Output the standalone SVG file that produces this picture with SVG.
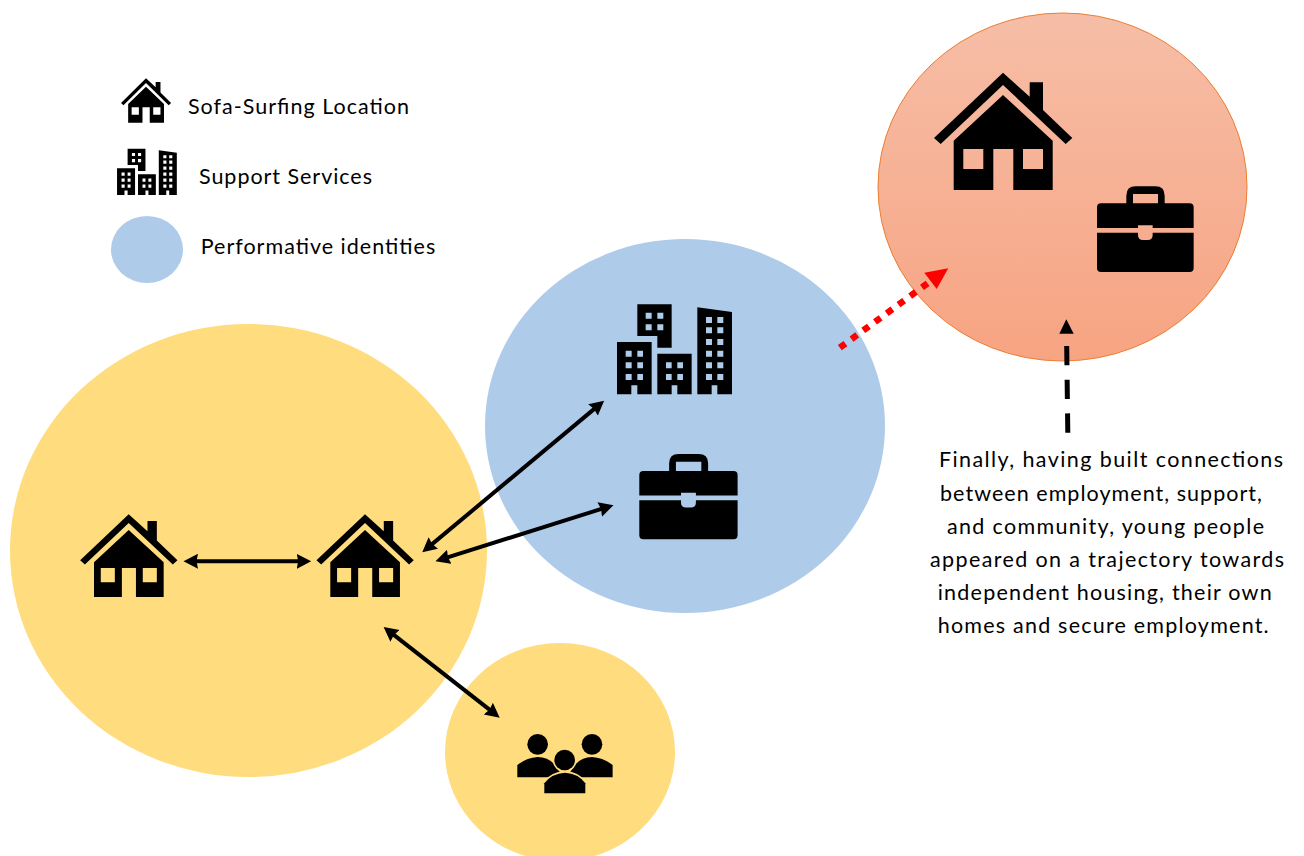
<svg xmlns="http://www.w3.org/2000/svg" xmlns:xlink="http://www.w3.org/1999/xlink" width="1304" height="856" viewBox="0 0 1304 856">
<style>
text{font-family:Lato,"Liberation Sans",sans-serif;font-size:21.5px;fill:#000}
.y{fill:#FFDC7E}.b{fill:#AECCEA}
.dbl{stroke:#000;stroke-width:4;fill:none;marker-start:url(#ah);marker-end:url(#ah)}
</style>
<defs>
<linearGradient id="rg" x1="0" y1="0" x2="0" y2="1"><stop offset="0" stop-color="#F6BEA7"/><stop offset="1" stop-color="#F7A482"/></linearGradient>
<marker id="ah" markerUnits="userSpaceOnUse" markerWidth="17" markerHeight="17" refX="6" refY="8" orient="auto-start-reverse"><path d="M0,0.5L14.5,8L0,15.5L1.5,8z" fill="#000"/></marker>
<path id="house" fill-rule="evenodd" d="M0,0L26.7,24V9.6H40V37.3L69.3,65.3L62.7,71.3L0,12.3L-62.3,71.3L-69,65.3ZM0,22.3L49.7,68V117.3H10.3V76.3H-9.7V117.3H-49.3V68ZM-39.7,76.3V96.3H-19.7V76.3ZM20,76.3V96.3H40V76.3Z"/>
<path id="city" fill-rule="evenodd" d="M111,186H215V343H172V316H154V343H111ZM137,212V230H155V212ZM172,212V230H189V212ZM137,247V265H155V247ZM172,247V265H189V247ZM137,282V300H155V282ZM172,282V300H189V282ZM232,221H335V343H292V316H275V343H232ZM258,247V265H275V247ZM292,247V265H309V247ZM258,282V300H275V282ZM292,282V300H309V282ZM352,82L456,96V343H412V316H395V343H352ZM378,111V129H396V111ZM412,111V129H430V111ZM378,142V160H396V142ZM412,142V160H430V142ZM378,177V195H396V177ZM412,177V195H430V177ZM378,212V230H396V212ZM412,212V230H430V212ZM378,247V265H396V247ZM412,247V265H430V247ZM378,282V300H396V282ZM412,282V300H430V282ZM172,73H275V203H232V168H172ZM197,98V116H215V98ZM232,98V116H250V98ZM197,133V151H215V133ZM232,133V151H250V133Z"/>
<path id="case" fill-rule="evenodd" d="M88,51V28Q88,0 116,0H175Q203,0 203,28V51H278Q290,51 290,63V125H167V117H123V125H0V63Q0,51 12,51ZM108,51H183V23H108ZM0,139H123V146Q123,161 138,161H152Q167,161 167,146V139H290V245Q290,257 278,257H12Q0,257 0,245Z"/>
</defs>
<g id="circle-main"><ellipse class="y" cx="248.5" cy="550.5" rx="238.5" ry="226.5"/></g>
<g id="circle-identities"><ellipse class="b" cx="685" cy="426" rx="200" ry="187"/></g>
<g id="circle-community"><ellipse class="y" cx="560" cy="752" rx="115" ry="109"/></g>
<g id="circle-future"><ellipse cx="1062.5" cy="187" rx="184.5" ry="174" fill="url(#rg)" stroke="#ED7D31" stroke-width="1"/></g>
<g id="legend-house"><use xlink:href="#house" href="#house" transform="translate(146,78.3) scale(.362,.378)"/><text x="188" y="114" textLength="221" lengthAdjust="spacing">Sofa-Surfing Location</text></g>
<g id="legend-services"><use xlink:href="#city" href="#city" transform="translate(97.8,136.2) scale(.1733,.1717)"/><text x="199" y="184" textLength="173" lengthAdjust="spacing">Support Services</text></g>
<g id="legend-identities"><ellipse class="b" cx="147" cy="249.5" rx="36" ry="33.5"/><text x="200.7" y="254" textLength="234.5" lengthAdjust="spacing">Performative identities</text></g>
<g id="house-a"><use xlink:href="#house" href="#house" transform="translate(128.7,514.3) scale(.7035,.705)"/></g>
<g id="house-b"><use xlink:href="#house" href="#house" transform="translate(365,514.3) scale(.7035,.705)"/></g>
<g id="services"><use xlink:href="#city" href="#city" transform="translate(580,280) scale(.3333)"/></g>
<g id="briefcase-a"><use xlink:href="#case" href="#case" transform="translate(639.3,454) scale(.339,.332)"/></g>
<g id="people"><g transform="translate(370,610) scale(.3333)">
<circle cx="503" cy="403" r="31"/><circle cx="666" cy="403" r="31"/>
<path d="M442,502V465Q470,443 503,441Q535,441 555,465L580,502Z"/><path d="M728,502V465Q700,443 666,441Q635,441 615,465L590,502Z"/>
<circle cx="584" cy="450" r="31" stroke="#FFDC7E" stroke-width="10"/>
<path d="M523,550V520Q545,490 585,488Q625,490 646,520V550Z" stroke="#FFDC7E" stroke-width="10" paint-order="stroke"/>
<circle cx="584" cy="450" r="31"/>
</g></g>
<g id="house-own"><use xlink:href="#house" href="#house" transform="translate(1003,72.7)"/></g>
<g id="briefcase-b"><use xlink:href="#case" href="#case" transform="translate(1097,186.3) scale(.3333)"/></g>
<g id="connectors">
<line class="dbl" x1="192" y1="561.3" x2="302.7" y2="561.3"/>
<line class="dbl" x1="597.6" y1="406.1" x2="428.8" y2="546.9"/>
<line class="dbl" x1="605.4" y1="507.7" x2="443.6" y2="558.6"/>
<line class="dbl" x1="390.3" y1="632.2" x2="493" y2="712.4"/>
<line x1="839.8" y1="347.7" x2="928.2" y2="282.9" stroke="#F00" stroke-width="6.5" stroke-dasharray="7 7.55"/>
<polygon points="948.3,268.3 924.3,272.7 936.7,289" fill="#F00"/>
<line x1="1066.7" y1="346" x2="1067.8" y2="433" stroke="#000" stroke-width="5" stroke-dasharray="19.3 14.4"/>
<polygon points="1066.3,319.3 1059.3,333.7 1073.7,333.7" fill="#000"/>
</g>
<g id="caption">
<text x="939" y="467.3" textLength="344" lengthAdjust="spacing">Finally, having built connections</text>
<text x="940" y="501" textLength="322" lengthAdjust="spacing">between employment, support,</text>
<text x="947" y="534" textLength="317" lengthAdjust="spacing">and community, young people</text>
<text x="930" y="566.7" textLength="354" lengthAdjust="spacing">appeared on a trajectory towards</text>
<text x="937.7" y="599.7" textLength="334" lengthAdjust="spacing">independent housing, their own</text>
<text x="937.7" y="632.7" textLength="331" lengthAdjust="spacing">homes and secure employment.</text>
</g>
</svg>
